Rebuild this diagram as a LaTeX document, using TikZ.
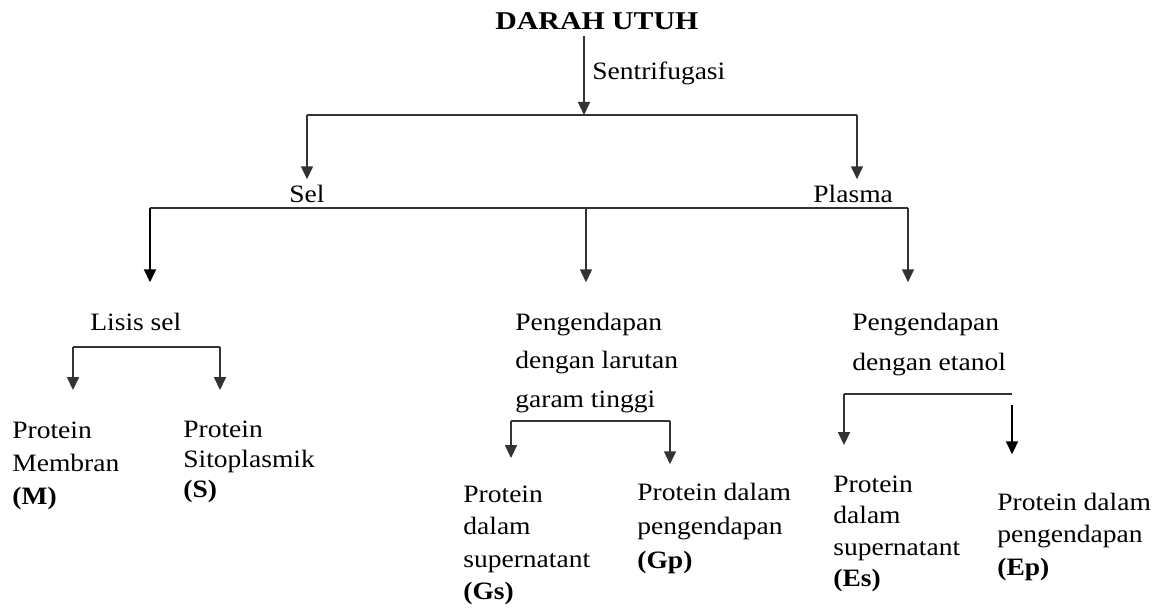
\documentclass[tikz,border=0pt]{standalone}
\usepackage{fontspec}
\setmainfont{Liberation Serif}[FakeStretch=1.1]
\newfontfamily\titlefont{Liberation Serif}[FakeStretch=1.165]
\usetikzlibrary{arrows.meta}
\newcommand{\linesof}[2]{\vtop{\baselineskip=#1\lineskiplimit=-20pt\lineskip=0pt\halign{##\hfil\cr#2\crcr}}}
\begin{document}
\begin{tikzpicture}[x=0.5pt,y=-0.5pt,
  every node/.style={inner sep=0pt, anchor=base west, font=\fontsize{12.5}{15}\selectfont},
  bar/.style={line width=0.75pt, draw=black!80},
  arr/.style={bar, -{Triangle[width=6pt,length=6.5pt]}}]
\fill[white] (0,0) rectangle (1165,610);
\useasboundingbox (0,0) rectangle (1165,610);

% text nodes
\node (darah) at (495,30) {\titlefont\fontsize{12.8}{15}\selectfont\bfseries DARAH UTUH};
\node (sentri) at (592,80) {Sentrifugasi};
\node (sel) at (289,202) {Sel};
\node (plasma) at (813,202) {Plasma};
\node (lisis) at (90,330) {Lisis sel};
\node (pgaram) at (515,330) {\linesof{19.25pt}{Pengendapan\cr dengan larutan\cr garam tinggi}};
\node (petanol) at (852,330) {\linesof{20pt}{Pengendapan\cr dengan etanol}};
\node (pm) at (12,438) {\linesof{16.5pt}{Protein\cr Membran\cr \textbf{(M)}}};
\node (ps) at (183,437) {\linesof{15pt}{Protein\cr Sitoplasmik\cr \textbf{(S)}}};
\node (pgs) at (463,502) {\linesof{16.3pt}{Protein\cr dalam\cr supernatant\cr \textbf{(Gs)}}};
\node (pgp) at (637,500) {\linesof{17pt}{Protein dalam\cr pengendapan\cr \textbf{(Gp)}}};
\node (pes) at (833,492) {\linesof{15.8pt}{Protein\cr dalam\cr supernatant\cr \textbf{(Es)}}};
\node (pep) at (997,510) {\linesof{16.3pt}{Protein dalam\cr pengendapan\cr \textbf{(Ep)}}};

% branch points
\coordinate (b1) at (584,115);
\coordinate (b1l) at (307,115);
\coordinate (b1r) at (857,115);
\coordinate (b2l) at (150,208);
\coordinate (b2m) at (586,208);
\coordinate (b2r) at (908,208);
\coordinate (b3l) at (73,347);
\coordinate (b3r) at (220,347);
\coordinate (b4l) at (511,421);
\coordinate (b4r) at (670,421);
\coordinate (b5l) at (844,394);
\coordinate (b5r) at (1012,394);
\coordinate (b5s) at (1012,405);

% centrifugation
\draw[arr, shorten <=2.5pt] (darah.south -| b1) -- (b1);
\draw[bar] (b1l) -- (b1r);
\draw[arr, shorten >=2.5pt] (b1l) -- (b1l |- sel.north);
\draw[arr, shorten >=2.5pt] (b1r) -- (b1r |- plasma.north);

% second level
\draw[bar] (b2l) -- (b2r);
\draw[arr, line width=1pt, draw=black, shorten >=15pt] (b2l) -- (b2l |- lisis.north);
\draw[arr, shorten >=15pt] (b2m) -- (b2m |- pgaram.north);
\draw[arr, shorten >=15pt] (b2r) -- (b2r |- petanol.north);

% lisis sel
\draw[bar] (b3l) -- (b3r);
\draw[arr, shorten >=15.5pt] (b3l) -- (b3l |- pm.north);
\draw[arr, shorten >=15pt] (b3r) -- (b3r |- ps.north);

% garam tinggi
\draw[bar] (b4l) -- (b4r);
\draw[arr, shorten >=13.5pt] (b4l) -- (b4l |- pgs.north);
\draw[arr, shorten >=9pt] (b4r) -- (b4r |- pgp.north);

% etanol
\draw[bar] (b5l) -- (b5r);
\draw[arr, shorten >=15pt] (b5l) -- (b5l |- pes.north);
\draw[arr, line width=1pt, draw=black, shorten >=19pt] (b5s) -- (b5s |- pep.north);
\end{tikzpicture}
\end{document}
